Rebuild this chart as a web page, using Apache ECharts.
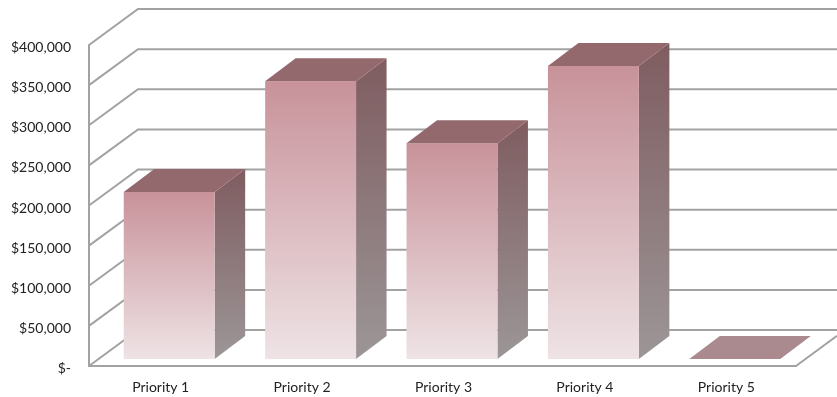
<!DOCTYPE html>
<html>
<head>
<meta charset="utf-8">
<style>html,body{margin:0;padding:0;background:#fff}#chart{width:837px;height:397px}</style>
<script src="https://cdn.jsdelivr.net/npm/echarts@6/dist/echarts.min.js"></script>
</head>
<body>
<div id="chart"></div>
<script>
const categories = ['Priority 1', 'Priority 2', 'Priority 3', 'Priority 4', 'Priority 5'];
const amounts = [208000, 346000, 269000, 365000, 0];
const gridTicks = [0, 50000, 100000, 150000, 200000, 250000, 300000, 350000, 400000];

// Oblique projection used for the fake 3D box
const WALL_DX = 49, WALL_DY = -36;
const BAR_DX = 9.5, BAR_DY = -7;
const DEPTH_DX = 30.5, DEPTH_DY = -23;
const BAR_RATIO = 0.643;
const LINE = { stroke: '#a2a2a2', lineWidth: 2, fill: null };

const vGrad = (a, b) => new echarts.graphic.LinearGradient(0, 0, 0, 1, [
  { offset: 0, color: a }, { offset: 1, color: b }
]);

function renderGrid(params, api) {
  const value = api.value(0);
  const p = api.coord([0, value]);
  const cs = params.coordSys;
  const x0 = cs.x, y = p[1];
  const backX = x0 + WALL_DX, backY = y + WALL_DY;
  const children = [
    { type: 'polyline', shape: { points: [[x0, y], [backX, backY], [837, backY]] }, style: LINE, silent: true }
  ];
  if (value === 0) {
    const right = x0 + cs.width;
    const run = 837 - right;
    children.push({ type: 'line', shape: { x1: right, y1: y, x2: 837, y2: y + WALL_DY * run / WALL_DX }, style: LINE, silent: true });
  }
  return { type: 'group', children };
}

function renderBar(params, api) {
  const top = api.coord([api.value(0), api.value(1)]);
  const base = api.coord([api.value(0), 0]);
  const w = api.size([1, 0])[0] * BAR_RATIO;
  const l = top[0] - w / 2 + BAR_DX, r = l + w;
  const t = top[1] + BAR_DY, b = base[1] + BAR_DY;
  const flat = b - t < 1;
  const children = [];
  if (!flat) {
    children.push({
      type: 'polygon',
      shape: { points: [[r, t], [r + DEPTH_DX, t + DEPTH_DY], [r + DEPTH_DX, b + DEPTH_DY], [r, b]] },
      style: { fill: vGrad('#7f5c60', '#9c9697') }
    });
    children.push({
      type: 'rect',
      shape: { x: l, y: t, width: w, height: b - t },
      style: { fill: vGrad('#c8929a', '#eee3e5') }
    });
  }
  children.push({
    type: 'polygon',
    shape: { points: [[l, t], [l + DEPTH_DX, t + DEPTH_DY], [r + DEPTH_DX, t + DEPTH_DY], [r, t]] },
    style: { fill: flat ? '#aa8a8f' : '#94696d' }
  });
  return { type: 'group', children };
}

const chart = echarts.init(document.getElementById('chart'), null, { renderer: 'canvas' });
chart.setOption({
  animation: false,
  backgroundColor: '#ffffff',
  grid: { left: 89, right: 41, top: 45, bottom: 31 },
  xAxis: {
    type: 'category',
    data: categories,
    axisTick: { show: false },
    axisLine: { lineStyle: { color: '#a2a2a2', width: 2 } },
    axisLabel: { color: '#222', fontFamily: 'Lato', fontSize: 14, margin: 14, padding: [0, 0, 0, 2] }
  },
  yAxis: {
    type: 'value',
    min: 0,
    max: 400000,
    interval: 50000,
    splitLine: { show: false },
    axisTick: { show: false },
    axisLine: { show: true, lineStyle: { color: '#a2a2a2', width: 2 } },
    axisLabel: {
      color: '#222', fontFamily: 'Lato', fontSize: 14, margin: 18,
      verticalAlign: 'top', lineHeight: 5, showMinLabel: true, showMaxLabel: true,
      formatter: v => v === 0 ? '$-' : '$' + v.toLocaleString('en-US')
    }
  },
  series: [
    {
      type: 'custom',
      z: 1,
      silent: true,
      renderItem: renderGrid,
      encode: { y: 0 },
      data: gridTicks.map(v => [v])
    },
    {
      type: 'custom',
      z: 3,
      renderItem: renderBar,
      encode: { x: 0, y: 1 },
      data: amounts.map((v, i) => [i, v])
    }
  ]
});
</script>
</body>
</html>
